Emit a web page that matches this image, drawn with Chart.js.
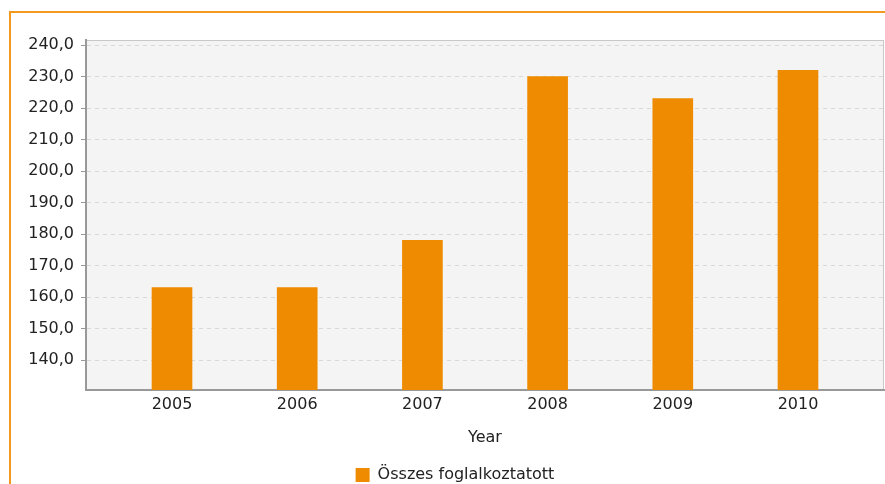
<!DOCTYPE html>
<html>
<head>
<meta charset="utf-8">
<script src="https://cdn.jsdelivr.net/npm/chart.js@4.4.1/dist/chart.umd.min.js"></script>
<style>
  html, body { margin: 0; padding: 0; background: #fff; overflow: hidden; width: 885px; height: 484px; }
  #frame { position: absolute; left: 9px; top: 11px; width: 900px; height: 500px;
           border-top: 2px solid #f29a20; border-left: 2px solid #f29a20; }
  #employChart { position: absolute; left: 11px; top: 12px; }
</style>
</head>
<body>
<div id="frame"></div>
<canvas id="employChart" width="874" height="481"></canvas>
<script>
// data
var years = [2005, 2006, 2007, 2008, 2009, 2010];
var employed = [163, 163, 178, 230, 223, 232];
var yTicks = [140, 150, 160, 170, 180, 190, 200, 210, 220, 230, 240];
var seriesName = 'Összes foglalkoztatott';
var axisTitle = 'Year';

var orange = '#ef8b00';
var font = { family: 'DejaVu Sans', size: 16 };

// grey plot background with a thin frame
var plotBg = {
  id: 'plotBg',
  beforeDraw: function (chart) {
    var a = chart.chartArea;
    var ctx = chart.ctx;
    ctx.save();
    ctx.fillStyle = '#f4f4f4';
    ctx.fillRect(a.left, a.top, a.right - a.left, a.bottom - a.top);
    ctx.strokeStyle = '#c8c8c8';
    ctx.lineWidth = 1;
    ctx.strokeRect(a.left + 0.5, a.top + 0.5, a.right - a.left - 1, a.bottom - a.top - 1);
    ctx.restore();
  }
};

new Chart(document.getElementById('employChart').getContext('2d'), {
  type: 'bar',
  data: {
    datasets: [
      {
        label: seriesName,
        backgroundColor: orange,
        borderWidth: 0,
        barThickness: 40,
        data: years.map(function (y, i) { return { x: y, y: employed[i] }; })
      }
    ]
  },
  plugins: [plotBg],
  options: {
    responsive: false,
    animation: false,
    devicePixelRatio: 1,
    layout: { padding: { top: 28, left: 15, right: 1, bottom: 0 } },
    plugins: {
      tooltip: { enabled: false },
      legend: {
        position: 'bottom',
        labels: {
          boxWidth: 14,
          boxHeight: 14,
          padding: 16,
          color: '#222',
          font: font
        }
      }
    },
    scales: {
      x: {
        type: 'linear',
        offset: false,
        min: 2004.313,
        max: 2010.687,
        afterBuildTicks: function (scale) {
          scale.ticks = years.map(function (v) { return { value: v }; });
        },
        afterFit: function (scale) { scale.height = 61; },
        grid: { display: false, drawTicks: false },
        border: { display: true, color: '#999', width: 2 },
        ticks: {
          padding: 5,
          color: '#222',
          font: font,
          callback: function (v) { return String(v); }
        },
        title: {
          display: true,
          text: axisTitle,
          color: '#222',
          font: font,
          padding: { top: 4, bottom: 4 }
        }
      },
      y: {
        min: 130.5,
        max: 241.6,
        afterBuildTicks: function (scale) {
          scale.ticks = yTicks.map(function (v) { return { value: v }; });
        },
        afterFit: function (scale) { scale.width = 60; },
        grid: {
          color: '#d8d8d8',
          tickColor: '#999',
          tickLength: 5,
          tickBorderDash: []
        },
        border: { display: true, color: '#999', width: 2, dash: [4, 4] },
        ticks: {
          padding: 7,
          color: '#222',
          font: font,
          callback: function (v) { return v.toFixed(1).replace('.', ','); }
        }
      }
    }
  }
});
</script>
</body>
</html>
